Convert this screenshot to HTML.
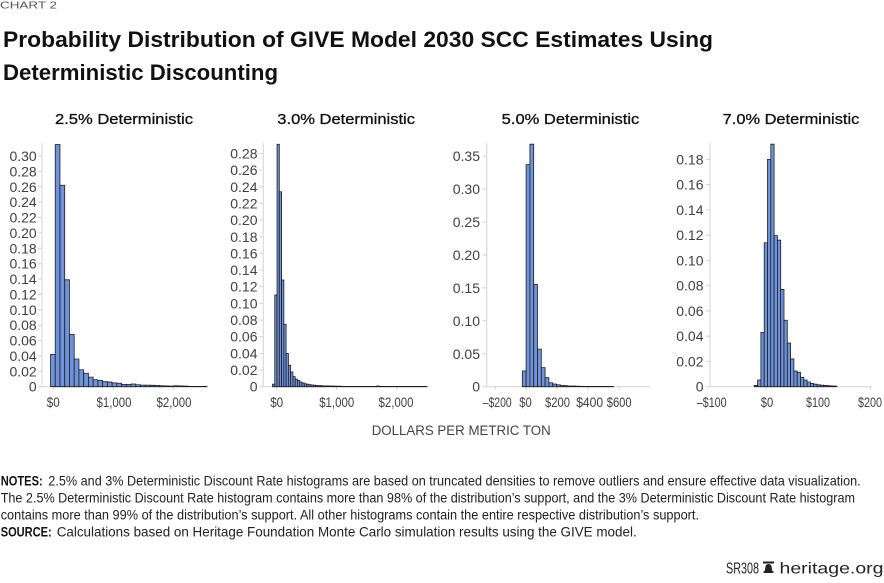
<!DOCTYPE html>
<html><head><meta charset="utf-8">
<style>
html,body{margin:0;padding:0;background:#fff;}
svg{display:block;}
.b rect{vector-effect:non-scaling-stroke;fill:#6f93db;stroke:#1e1e1e;stroke-width:0.8;}
.ax{stroke:#d4d4d4;stroke-width:1;fill:none;}
.yl{font-family:"Liberation Sans",sans-serif;font-size:14px;fill:#404040;text-anchor:end;}
.xl{font-family:"Liberation Sans",sans-serif;font-size:14px;fill:#404040;text-anchor:middle;}
.pt{font-family:"Liberation Sans",sans-serif;font-size:15px;fill:#111;stroke:#111;stroke-width:0.3;}
.nt{font-family:"Liberation Sans",sans-serif;font-size:14px;fill:#222;}
.nb{font-family:"Liberation Sans",sans-serif;font-size:14px;fill:#111;font-weight:bold;}
</style></head>
<body>
<svg width="884" height="583" viewBox="0 0 884 583" xmlns="http://www.w3.org/2000/svg">
<!-- header -->
<text x="0" y="8.5" font-family="Liberation Sans, sans-serif" font-size="10" fill="#555" textLength="57" lengthAdjust="spacingAndGlyphs">CHART 2</text>
<text x="3" y="47" font-family="Liberation Sans, sans-serif" font-size="22" font-weight="bold" fill="#111" textLength="710" lengthAdjust="spacingAndGlyphs">Probability Distribution of GIVE Model 2030 SCC Estimates Using</text>
<text x="3" y="80" font-family="Liberation Sans, sans-serif" font-size="22" font-weight="bold" fill="#111" textLength="275" lengthAdjust="spacingAndGlyphs">Deterministic Discounting</text>

<!-- panel titles -->
<text class="pt" x="55" y="124" textLength="138" lengthAdjust="spacingAndGlyphs">2.5% Deterministic</text>
<text class="pt" x="277.3" y="124" textLength="137.7" lengthAdjust="spacingAndGlyphs">3.0% Deterministic</text>
<text class="pt" x="501.7" y="124" textLength="137.6" lengthAdjust="spacingAndGlyphs">5.0% Deterministic</text>
<text class="pt" x="722.7" y="124" textLength="136.6" lengthAdjust="spacingAndGlyphs">7.0% Deterministic</text>

<!-- ===== Panel 1 ===== -->
<g class="ax">
<line x1="42" y1="143.3" x2="42" y2="386.7"/>
<line x1="42" y1="386.7" x2="207" y2="386.7"/>
<path d="M38 386.7H42M38 371.3H42M38 355.9H42M38 340.6H42M38 325.2H42M38 309.8H42M38 294.4H42M38 279H42M38 263.7H42M38 248.3H42M38 232.9H42M38 217.5H42M38 202.1H42M38 186.8H42M38 171.4H42M38 156H42"/>
<path d="M53.3 386.7V390M113.3 386.7V390M173.3 386.7V390"/>
</g>
<g class="yl">
<text x="36.7" y="391.7">0</text>
<text x="36.7" y="376.3">0.02</text>
<text x="36.7" y="360.9">0.04</text>
<text x="36.7" y="345.6">0.06</text>
<text x="36.7" y="330.2">0.08</text>
<text x="36.7" y="314.8">0.10</text>
<text x="36.7" y="299.4">0.12</text>
<text x="36.7" y="284">0.14</text>
<text x="36.7" y="268.7">0.16</text>
<text x="36.7" y="253.3">0.18</text>
<text x="36.7" y="237.9">0.20</text>
<text x="36.7" y="222.5">0.22</text>
<text x="36.7" y="207.1">0.24</text>
<text x="36.7" y="191.8">0.26</text>
<text x="36.7" y="176.4">0.28</text>
<text x="36.7" y="161">0.30</text>
</g>
<g class="xl">
<text x="53.3" y="407" textLength="13" lengthAdjust="spacingAndGlyphs">$0</text>
<text x="114" y="407" textLength="35" lengthAdjust="spacingAndGlyphs">$1,000</text>
<text x="174" y="407" textLength="35" lengthAdjust="spacingAndGlyphs">$2,000</text>
</g>
<g class="b" transform="translate(50.5 386.7) scale(4.74 -769)">
<rect x="0" y="0" width="1" height="0.042"/>
<rect x="1" y="0" width="1" height="0.315"/>
<rect x="2" y="0" width="1" height="0.262"/>
<rect x="3" y="0" width="1" height="0.139"/>
<rect x="4" y="0" width="1" height="0.068"/>
<rect x="5" y="0" width="1" height="0.036"/>
<rect x="6" y="0" width="1" height="0.022"/>
<rect x="7" y="0" width="1" height="0.0175"/>
<rect x="8" y="0" width="1" height="0.0125"/>
<rect x="9" y="0" width="1" height="0.009"/>
<rect x="10" y="0" width="1" height="0.008"/>
<rect x="11" y="0" width="1" height="0.0065"/>
<rect x="12" y="0" width="1" height="0.006"/>
<rect x="13" y="0" width="1" height="0.005"/>
<rect x="14" y="0" width="1" height="0.0045"/>
<rect x="15" y="0" width="1" height="0.003"/>
<rect x="16" y="0" width="1" height="0.003"/>
<rect x="17" y="0" width="1" height="0.0035"/>
<rect x="18" y="0" width="1" height="0.0025"/>
<rect x="19" y="0" width="1" height="0.002"/>
<rect x="20" y="0" width="1" height="0.002"/>
<rect x="21" y="0" width="1" height="0.0018"/>
<rect x="22" y="0" width="1" height="0.0015"/>
<rect x="23" y="0" width="1" height="0.0012"/>
<rect x="24" y="0" width="1" height="0.001"/>
<rect x="25" y="0" width="1" height="0.0008"/>
<rect x="26" y="0" width="1" height="0.0012"/>
<rect x="27" y="0" width="1" height="0.001"/>
<rect x="28" y="0" width="1" height="0.0008"/>
<rect x="29" y="0" width="4" height="0.0004"/>
</g>

<!-- ===== Panel 2 ===== -->
<g class="ax">
<line x1="263.3" y1="143.3" x2="263.3" y2="386.7"/>
<line x1="263.3" y1="386.7" x2="428" y2="386.7"/>
<path d="M259.3 386.7H263.3M259.3 370H263.3M259.3 353.4H263.3M259.3 336.7H263.3M259.3 320.1H263.3M259.3 303.4H263.3M259.3 286.7H263.3M259.3 270.1H263.3M259.3 253.4H263.3M259.3 236.8H263.3M259.3 220.1H263.3M259.3 203.4H263.3M259.3 186.8H263.3M259.3 170.1H263.3M259.3 153.5H263.3"/>
<path d="M276.7 386.7V390M336.7 386.7V390M396.7 386.7V390"/>
</g>
<g class="yl">
<text x="257.5" y="391.7">0</text>
<text x="257.5" y="375">0.02</text>
<text x="257.5" y="358.4">0.04</text>
<text x="257.5" y="341.7">0.06</text>
<text x="257.5" y="325.1">0.08</text>
<text x="257.5" y="308.4">0.10</text>
<text x="257.5" y="291.7">0.12</text>
<text x="257.5" y="275.1">0.14</text>
<text x="257.5" y="258.4">0.16</text>
<text x="257.5" y="241.8">0.18</text>
<text x="257.5" y="225.1">0.20</text>
<text x="257.5" y="208.4">0.22</text>
<text x="257.5" y="191.8">0.24</text>
<text x="257.5" y="175.1">0.26</text>
<text x="257.5" y="158.5">0.28</text>
</g>
<g class="xl">
<text x="276.7" y="407" textLength="13" lengthAdjust="spacingAndGlyphs">$0</text>
<text x="336.7" y="407" textLength="35" lengthAdjust="spacingAndGlyphs">$1,000</text>
<text x="396" y="407" textLength="35" lengthAdjust="spacingAndGlyphs">$2,000</text>
</g>
<g class="b" transform="translate(272.5 386.7) scale(2.27 -833)">
<rect x="0" y="0" width="1" height="0.003"/>
<rect x="1" y="0" width="1" height="0.110"/>
<rect x="2" y="0" width="1" height="0.291"/>
<rect x="3" y="0" width="1" height="0.234"/>
<rect x="4" y="0" width="1" height="0.128"/>
<rect x="5" y="0" width="1" height="0.075"/>
<rect x="6" y="0" width="1" height="0.040"/>
<rect x="7" y="0" width="1" height="0.0257"/>
<rect x="8" y="0" width="1" height="0.0176"/>
<rect x="9" y="0" width="1" height="0.012"/>
<rect x="10" y="0" width="1" height="0.009"/>
<rect x="11" y="0" width="1" height="0.0076"/>
<rect x="12" y="0" width="1" height="0.0056"/>
<rect x="13" y="0" width="1" height="0.0045"/>
<rect x="14" y="0" width="1" height="0.0035"/>
<rect x="15" y="0" width="1" height="0.003"/>
<rect x="16" y="0" width="1" height="0.0025"/>
<rect x="17" y="0" width="1" height="0.002"/>
<rect x="18" y="0" width="1" height="0.0018"/>
<rect x="19" y="0" width="1" height="0.0015"/>
<rect x="20" y="0" width="1" height="0.0013"/>
<rect x="21" y="0" width="1" height="0.0012"/>
<rect x="22" y="0" width="1" height="0.001"/>
<rect x="23" y="0" width="1" height="0.001"/>
<rect x="24" y="0" width="1" height="0.0009"/>
<rect x="25" y="0" width="1" height="0.0008"/>
<rect x="26" y="0" width="1" height="0.0008"/>
<rect x="27" y="0" width="1" height="0.0007"/>
<rect x="28" y="0" width="1" height="0.0006"/>
<rect x="29" y="0" width="1" height="0.0006"/>
<rect x="30" y="0" width="1" height="0.0005"/>
<rect x="31" y="0" width="15" height="0.0004"/>
<rect x="46" y="0" width="1" height="0.0009"/>
<rect x="47" y="0" width="21" height="0.0003"/>
</g>

<!-- ===== Panel 3 ===== -->
<g class="ax">
<line x1="486.7" y1="143.3" x2="486.7" y2="386.7"/>
<line x1="486.7" y1="386.7" x2="650" y2="386.7"/>
<path d="M482.7 386.7H486.7M482.7 353.8H486.7M482.7 320.8H486.7M482.7 287.9H486.7M482.7 254.9H486.7M482.7 222H486.7M482.7 189H486.7M482.7 156.1H486.7"/>
<path d="M495 386.7V390M526 386.7V390M557 386.7V390M588 386.7V390M619 386.7V390"/>
</g>
<g class="yl">
<text x="480" y="391.7">0</text>
<text x="480" y="358.8">0.05</text>
<text x="480" y="325.8">0.10</text>
<text x="480" y="292.9">0.15</text>
<text x="480" y="259.9">0.20</text>
<text x="480" y="227">0.25</text>
<text x="480" y="194">0.30</text>
<text x="480" y="161.1">0.35</text>
</g>
<g class="xl">
<text x="497.2" y="407" textLength="29" lengthAdjust="spacingAndGlyphs">–$200</text>
<text x="525.5" y="407" textLength="12.5" lengthAdjust="spacingAndGlyphs">$0</text>
<text x="557.5" y="407" textLength="25" lengthAdjust="spacingAndGlyphs">$200</text>
<text x="589.7" y="407" textLength="27" lengthAdjust="spacingAndGlyphs">$400</text>
<text x="619.2" y="407" textLength="25" lengthAdjust="spacingAndGlyphs">$600</text>
</g>
<g class="b" transform="translate(522.3 386.7) scale(3.8 -659)">
<rect x="0" y="0" width="1" height="0.024"/>
<rect x="1" y="0" width="1" height="0.337"/>
<rect x="2" y="0" width="1" height="0.368"/>
<rect x="3" y="0" width="1" height="0.155"/>
<rect x="4" y="0" width="1" height="0.057"/>
<rect x="5" y="0" width="1" height="0.029"/>
<rect x="6" y="0" width="1" height="0.0137"/>
<rect x="7" y="0" width="1" height="0.006"/>
<rect x="8" y="0" width="1" height="0.004"/>
<rect x="9" y="0" width="1" height="0.003"/>
<rect x="10" y="0" width="1" height="0.002"/>
<rect x="11" y="0" width="1" height="0.0015"/>
<rect x="12" y="0" width="1" height="0.001"/>
<rect x="13" y="0" width="1" height="0.001"/>
<rect x="14" y="0" width="1" height="0.0008"/>
<rect x="15" y="0" width="1" height="0.0006"/>
<rect x="16" y="0" width="8" height="0.0004"/>
</g>

<!-- ===== Panel 4 ===== -->
<g class="ax">
<line x1="710" y1="143.3" x2="710" y2="386.7"/>
<line x1="710" y1="386.7" x2="871.7" y2="386.7"/>
<path d="M706 386.7H710M706 361.4H710M706 336.2H710M706 310.9H710M706 285.7H710M706 260.4H710M706 235.1H710M706 209.9H710M706 184.6H710M706 159.4H710"/>
<path d="M766 386.7V390M818 386.7V390M870.5 386.7V390"/>
</g>
<g class="yl">
<text x="703.5" y="391.7">0</text>
<text x="703.5" y="366.4">0.02</text>
<text x="703.5" y="341.2">0.04</text>
<text x="703.5" y="315.9">0.06</text>
<text x="703.5" y="290.7">0.08</text>
<text x="703.5" y="265.4">0.10</text>
<text x="703.5" y="240.1">0.12</text>
<text x="703.5" y="214.9">0.14</text>
<text x="703.5" y="189.6">0.16</text>
<text x="703.5" y="164.4">0.18</text>
</g>
<g class="xl">
<text x="711.7" y="407" textLength="30" lengthAdjust="spacingAndGlyphs">–$100</text>
<text x="767" y="407" textLength="12.5" lengthAdjust="spacingAndGlyphs">$0</text>
<text x="818" y="407" textLength="24" lengthAdjust="spacingAndGlyphs">$100</text>
<text x="870" y="407" textLength="24" lengthAdjust="spacingAndGlyphs">$200</text>
</g>
<g class="b" transform="translate(754.3 386.7) scale(3.3 -1263)">
<rect x="0" y="0" width="1" height="0.001"/>
<rect x="1" y="0" width="1" height="0.0053"/>
<rect x="2" y="0" width="1" height="0.043"/>
<rect x="3" y="0" width="1" height="0.114"/>
<rect x="4" y="0" width="1" height="0.180"/>
<rect x="5" y="0" width="1" height="0.192"/>
<rect x="6" y="0" width="1" height="0.1196"/>
<rect x="7" y="0" width="1" height="0.116"/>
<rect x="8" y="0" width="1" height="0.077"/>
<rect x="9" y="0" width="1" height="0.0526"/>
<rect x="10" y="0" width="1" height="0.0346"/>
<rect x="11" y="0" width="1" height="0.022"/>
<rect x="12" y="0" width="1" height="0.0124"/>
<rect x="13" y="0" width="1" height="0.0114"/>
<rect x="14" y="0" width="1" height="0.0075"/>
<rect x="15" y="0" width="1" height="0.0053"/>
<rect x="16" y="0" width="1" height="0.0037"/>
<rect x="17" y="0" width="1" height="0.0026"/>
<rect x="18" y="0" width="1" height="0.002"/>
<rect x="19" y="0" width="1" height="0.0015"/>
<rect x="20" y="0" width="1" height="0.0012"/>
<rect x="21" y="0" width="1" height="0.001"/>
<rect x="22" y="0" width="1" height="0.0008"/>
<rect x="23" y="0" width="1" height="0.0006"/>
<rect x="24" y="0" width="1" height="0.0005"/>
</g>

<!-- axis title -->
<text x="371.7" y="435" font-family="Liberation Sans, sans-serif" font-size="13.5" fill="#444" textLength="179" lengthAdjust="spacingAndGlyphs">DOLLARS PER METRIC TON</text>

<!-- notes -->
<text class="nb" x="0.7" y="485.7" textLength="42" lengthAdjust="spacingAndGlyphs">NOTES:</text>
<text class="nt" x="48.3" y="485.7" textLength="812.4" lengthAdjust="spacingAndGlyphs">2.5% and 3% Deterministic Discount Rate histograms are based on truncated densities to remove outliers and ensure effective data visualization.</text>
<text class="nt" x="0.7" y="502.5" textLength="854.3" lengthAdjust="spacingAndGlyphs">The 2.5% Deterministic Discount Rate histogram contains more than 98% of the distribution’s support, and the 3% Deterministic Discount Rate histogram</text>
<text class="nt" x="0.7" y="519.3" textLength="698.3" lengthAdjust="spacingAndGlyphs">contains more than 99% of the distribution’s support. All other histograms contain the entire respective distribution’s support.</text>
<text class="nb" x="0.7" y="536.5" textLength="51" lengthAdjust="spacingAndGlyphs">SOURCE:</text>
<text class="nt" x="56.7" y="536.5" textLength="580" lengthAdjust="spacingAndGlyphs">Calculations based on Heritage Foundation Monte Carlo simulation results using the GIVE model.</text>

<!-- footer -->
<text x="726" y="573.3" font-family="Liberation Sans, sans-serif" font-size="16" fill="#222" textLength="33" lengthAdjust="spacingAndGlyphs">SR308</text>
<g fill="#222">
<rect x="763" y="561.5" width="11" height="2"/>
<path d="M764.6 571.5 L765.4 567 Q765.7 564 768.5 564 Q771.3 564 771.6 567 L772.4 571.5 Z"/>
<rect x="763.5" y="571.2" width="10" height="1.8"/>
</g>
<text x="779.5" y="573.3" font-family="Liberation Sans, sans-serif" font-size="16" fill="#222" textLength="104" lengthAdjust="spacingAndGlyphs">heritage.org</text>
</svg>
</body></html>
